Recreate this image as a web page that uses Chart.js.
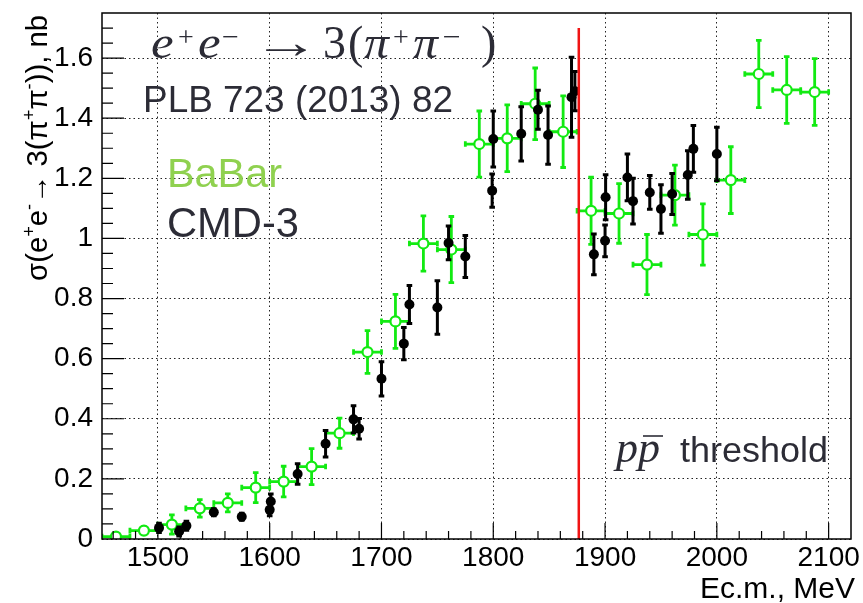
<!DOCTYPE html>
<html><head><meta charset="utf-8">
<script src="https://cdn.jsdelivr.net/npm/chart.js@4.4.0/dist/chart.umd.min.js"></script>
<style>html,body{margin:0;padding:0;background:#fff;}canvas{display:block;}</style>
</head><body>
<canvas id="c" width="863" height="603"></canvas>
<script>
// ---------------- DATA ----------------
// BaBar: e+e- -> 3(pi+pi-) cross section (nb), 25 MeV bins
const babarE     = [1462.5,1487.5,1512.5,1537.5,1562.5,1587.5,1612.5,1637.5,1662.5,1687.5,1712.5,1737.5,1762.5,1787.5,1812.5,1837.5,1862.5,1887.5,1912.5,1937.5,1962.5,1987.5,2012.5,2037.5,2062.5,2087.5];
const babarSigma = [0.008,0.028,0.048,0.102,0.120,0.171,0.191,0.241,0.352,0.622,0.724,0.983,0.963,1.314,1.333,1.448,1.355,1.092,1.083,0.913,1.144,1.013,1.194,1.547,1.494,1.487];
const babarErr   = [0.006,0.012,0.032,0.029,0.030,0.050,0.051,0.060,0.050,0.071,0.090,0.092,0.110,0.110,0.111,0.119,0.119,0.112,0.099,0.100,0.100,0.102,0.111,0.112,0.111,0.111];
const babarEErr  = [12.5,12.5,12.5,12.5,12.5,12.5,12.5,12.5,12.5,12.5,12.5,12.5,12.5,12.5,12.5,12.5,12.5,12.5,12.5,12.5,12.5,12.5,12.5,12.5,12.5,12.5];
// CMD-3
const cmdE       = [1501,1519,1525.5,1550,1575,1600,1601,1625,1650,1675,1680,1700,1720,1725,1750,1760,1775,1799,1800,1825,1840,1849,1870,1873,1890,1900,1900.5,1920,1925,1940,1950,1960,1974,1979,2000];
const cmdSigma   = [0.037,0.025,0.044,0.089,0.074,0.097,0.125,0.216,0.317,0.398,0.367,0.533,0.650,0.780,0.770,0.985,0.940,1.159,1.331,1.348,1.428,1.344,1.470,1.490,0.947,0.992,1.137,1.203,1.124,1.153,1.098,1.148,1.211,1.298,1.281];
const cmdErr     = [0.015,0.015,0.015,0.012,0.012,0.020,0.025,0.034,0.044,0.045,0.034,0.057,0.054,0.063,0.089,0.056,0.070,0.055,0.093,0.090,0.065,0.097,0.133,0.065,0.068,0.053,0.075,0.078,0.076,0.056,0.081,0.068,0.081,0.078,0.089];
// axes
const xTickValues = [1500,1600,1700,1800,1900,2000,2100];
const xTickLabels = ['1500','1600','1700','1800','1900','2000','2100'];
const yTickValues = [0,0.2,0.4,0.6,0.8,1.0,1.2,1.4,1.6];
const yTickLabels = ['0','0.2','0.4','0.6','0.8','1','1.2','1.4','1.6'];
const thresholdE = 1876.5;     // 2 m_p
const thresholdTop = 1.7;

// ---------------- STYLE ----------------
const SANS = "'Liberation Sans', Arial, Helvetica, sans-serif";
const SERIF = "'Liberation Serif', 'Times New Roman', serif";
const TXT = '#2c2c36';
const GREEN = '#12ea12';

function segFont(s, size){ const z = s.sup ? size*(s.k||0.62) : size; return (s.it?'italic ':'') + z.toFixed(2)+'px '+(s.fam||SANS); }
function segsWidth(ctx, segs, size){ let w=0; for(const s of segs){ ctx.font=segFont(s,size); w+=ctx.measureText(s.t).width; } return w; }
function drawSegs(ctx, segs, x, y, size){ let cx=x; for(const s of segs){ ctx.font=segFont(s,size); ctx.fillText(s.t, cx, y-(s.sup?size*(s.r||0.42):0)); cx+=ctx.measureText(s.t).width; } return cx; }
function fit(ctx, segs, target, base){ const w=segsWidth(ctx,segs,base); let s=base*target/w; return Math.max(base*0.85, Math.min(base*1.15, s)); }
// place single glyphs by their ink-left edge, optional target ink width
function glyph(ctx, g){
  ctx.font = (g.it?'italic ':'') + g.size + 'px ' + SERIF;
  const m = ctx.measureText(g.t);
  const inkW = m.actualBoundingBoxLeft + m.actualBoundingBoxRight;
  let sx = 1;
  if (g.w) sx = Math.max(0.7, Math.min(1.6, g.w / inkW));
  ctx.save();
  ctx.translate(g.x, g.y);
  ctx.scale(sx, 1);
  ctx.fillText(g.t, m.actualBoundingBoxLeft, 0);
  ctx.restore();
}

const errorBars = {
  id:'errorBars',
  beforeDatasetDraw(chart, args){
    const ds = chart.data.datasets[args.index];
    const xs = chart.scales.x, ys = chart.scales.y, ctx = chart.ctx, a = chart.chartArea;
    ctx.save();
    ctx.beginPath(); ctx.rect(a.left, a.top, a.right-a.left, a.bottom-a.top); ctx.clip();
    ctx.strokeStyle = ds.errColor; ctx.lineWidth = ds.errWidth; ctx.lineCap='butt';
    const cap = ds.capHalf;
    ds.data.forEach(p=>{
      const px = xs.getPixelForValue(p.x);
      const yt = ys.getPixelForValue(p.y+p.ey), yb = ys.getPixelForValue(p.y-p.ey), py = ys.getPixelForValue(p.y);
      ctx.beginPath();
      ctx.moveTo(px, yt); ctx.lineTo(px, yb);
      ctx.moveTo(px-cap, yt); ctx.lineTo(px+cap, yt);
      ctx.moveTo(px-cap, yb); ctx.lineTo(px+cap, yb);
      if (p.ex){
        const xl = xs.getPixelForValue(p.x-p.ex), xr = xs.getPixelForValue(p.x+p.ex);
        ctx.moveTo(xl, py); ctx.lineTo(xr, py);
        ctx.moveTo(xl, py-cap); ctx.lineTo(xl, py+cap);
        ctx.moveTo(xr, py-cap); ctx.lineTo(xr, py+cap);
      }
      ctx.stroke();
    });
    ctx.restore();
  }
};

const overlay = {
  id:'overlay',
  afterDatasetsDraw(chart){
    const xs = chart.scales.x, ys = chart.scales.y, ctx = chart.ctx;
    const px = xs.getPixelForValue(thresholdE);
    ctx.save();
    ctx.strokeStyle = '#f01414'; ctx.lineWidth = 2.5;
    ctx.beginPath(); ctx.moveTo(px, ys.getPixelForValue(0)); ctx.lineTo(px, ys.getPixelForValue(thresholdTop)); ctx.stroke();
    ctx.restore();
  },
  afterDraw(chart){
    const xs = chart.scales.x, ys = chart.scales.y, ctx = chart.ctx, a = chart.chartArea;
    ctx.save();
    // frame
    ctx.strokeStyle = '#000'; ctx.lineWidth = 1.5;
    ctx.strokeRect(a.left, a.top, a.right-a.left, a.bottom-a.top);
    // inner ticks
    ctx.lineWidth = 1.2;
    ctx.beginPath();
    for (let v = 1460; v <= 2120; v += 20){
      const x = xs.getPixelForValue(v);
      if (x <= a.left+1 || x >= a.right-1) continue;
      const L = (v % 100 === 0) ? 16 : 8;
      ctx.moveTo(x, a.bottom); ctx.lineTo(x, a.bottom-L);
    }
    for (let i = 1; i <= 34; i++){
      const v = i*0.05;
      const y = ys.getPixelForValue(v);
      const L = (i % 4 === 0) ? 22 : 11;
      ctx.moveTo(a.left, y); ctx.lineTo(a.left+L, y);
    }
    ctx.stroke();

    ctx.fillStyle = TXT; ctx.textBaseline = 'alphabetic'; ctx.textAlign = 'left';
    // reaction title, typeset glyph by glyph
    const B = 58, S = 46, SS = 28, SB = B-12;
    [ {t:'e', x:152, y:B, size:S, it:1, w:21},
      {t:'+', x:179, y:SB, size:SS, w:14},
      {t:'e', x:199, y:B, size:S, it:1, w:21},
      {t:'\u2212', x:223, y:SB, size:SS, w:15},
      {t:'\u2192', x:266, y:B, size:S, w:41},
      {t:'3', x:325, y:B, size:S, w:20},
      {t:'(', x:350, y:B, size:S},
      {t:'\u03c0', x:364, y:B, size:S, it:1, w:27},
      {t:'+', x:394, y:SB, size:SS, w:14},
      {t:'\u03c0', x:413, y:B, size:S, it:1, w:27},
      {t:'\u2212', x:444, y:SB, size:SS, w:16},
      {t:')', x:482, y:B, size:S}
    ].forEach(g=>glyph(ctx,g));
    // reference
    const pl = [{t:'PLB 723 (2013) 82'}];
    drawSegs(ctx, pl, 143, 112, fit(ctx, pl, 310, 37));
    // legend-like labels
    ctx.fillStyle = '#8fd14f';
    const bb = [{t:'BaBar'}];
    drawSegs(ctx, bb, 167, 187, fit(ctx, bb, 115, 38));
    ctx.fillStyle = TXT;
    const cm = [{t:'CMD-3'}];
    drawSegs(ctx, cm, 167, 237, fit(ctx, cm, 132, 38));
    // threshold label
    ctx.font = 'italic 44px '+SERIF;
    ctx.fillText('p', 616, 462);
    const pw = ctx.measureText('p').width;
    ctx.fillText('p', 616+pw, 462);
    ctx.lineWidth = 1.6; ctx.strokeStyle = TXT;
    ctx.beginPath(); ctx.moveTo(616+pw+5, 436); ctx.lineTo(616+2*pw+3, 436); ctx.stroke();
    const th = [{t:'threshold'}];
    drawSegs(ctx, th, 680, 462, fit(ctx, th, 148, 36));
    // axis titles
    ctx.fillStyle = '#000';
    ctx.textAlign = 'right';
    ctx.font = '30px '+SANS;
    ctx.fillText('Ec.m., MeV', 855, 598);
    ctx.textAlign = 'left';
    const yt = [{t:'\u03c3(e'},{t:'+',sup:1},{t:'e'},{t:'-',sup:1},{t:'\u2192 3(\u03c0'},{t:'+',sup:1},{t:'\u03c0'},{t:'-',sup:1},{t:')), nb'}];
    const ys2 = fit(ctx, yt, 266, 28);
    const W = segsWidth(ctx, yt, ys2);
    ctx.translate(47, 15);
    ctx.rotate(-Math.PI/2);
    drawSegs(ctx, yt, -W, 0, ys2);
    ctx.restore();
  }
};

const chart = new Chart(document.getElementById('c'), {
  type:'scatter',
  data:{ datasets:[
    { label:'BaBar', order:2,
      data: babarE.map((e,i)=>({x:e, y:babarSigma[i], ey:babarErr[i], ex:babarEErr[i]})),
      pointStyle:'circle', pointRadius:5, pointBorderWidth:2.2, borderColor:GREEN, backgroundColor:'#ffffff',
      errColor:GREEN, errWidth:2.8, capHalf:2.8 },
    { label:'CMD-3', order:1,
      data: cmdE.map((e,i)=>({x:e, y:cmdSigma[i], ey:cmdErr[i], ex:0})),
      pointStyle:'circle', pointRadius:5, pointBorderWidth:0, borderColor:'#000', backgroundColor:'#000',
      errColor:'#000', errWidth:3, capHalf:2.8 }
  ]},
  options:{
    responsive:false, animation:false, devicePixelRatio:1,
    layout:{ padding:{ left:0, top:13, right:12, bottom:0 } },
    plugins:{ legend:{display:false}, tooltip:{enabled:false} },
    scales:{
      x:{ type:'linear', min:1450, max:2120,
          afterBuildTicks:(s)=>{ s.ticks = xTickValues.map(v=>({value:v})); },
          afterFit:(s)=>{ s.height = 64; s.paddingLeft = 0; s.paddingRight = 0; },
          grid:{ color:'#222', lineWidth:1, drawTicks:false },
          border:{ display:false, dash:[1.5,3] },
          ticks:{ autoSkip:false, maxRotation:0, padding:2, color:'#000', font:{family:SANS, size:28},
                  callback:(v)=>{ const i = xTickValues.indexOf(v); return i>=0 ? xTickLabels[i] : ''; } } },
      y:{ type:'linear', min:0, max:1.75,
          afterBuildTicks:(s)=>{ s.ticks = yTickValues.map(v=>({value:v})); },
          afterFit:(s)=>{ s.width = 102; s.paddingTop = 0; s.paddingBottom = 0; },
          grid:{ color:'#222', lineWidth:1, drawTicks:false },
          border:{ display:false, dash:[1.5,3] },
          ticks:{ padding:9, color:'#000', font:{family:SANS, size:28},
                  callback:(v)=>{ const i = yTickValues.findIndex(t=>Math.abs(t-v)<1e-9); return i>=0 ? yTickLabels[i] : ''; } } }
    }
  },
  plugins:[errorBars, overlay]
});
</script>
</body></html>
